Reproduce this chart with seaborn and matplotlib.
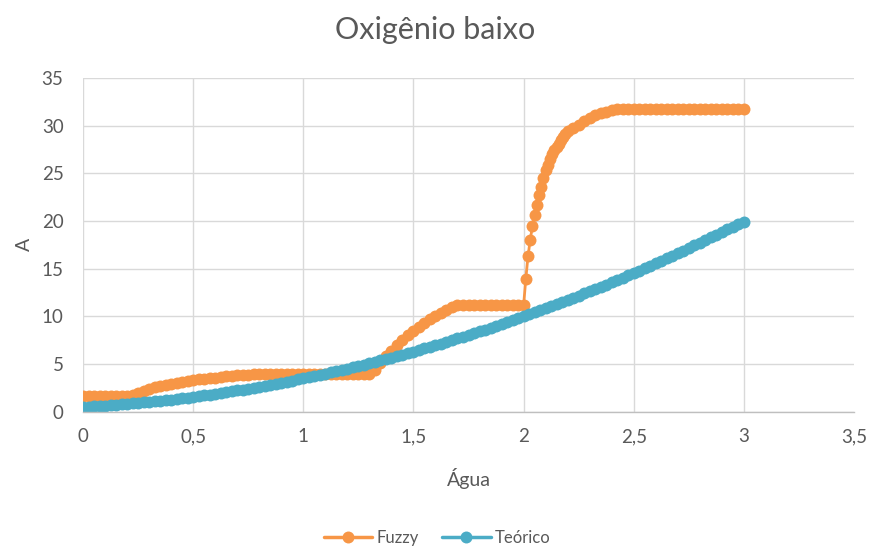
import numpy as np
import pandas as pd
import matplotlib
matplotlib.use("Agg")
import matplotlib.pyplot as plt
import seaborn as sns
from matplotlib.lines import Line2D

# ---------------- data ----------------
fuzzy_x = [0.000, 0.025, 0.050, 0.075, 0.100, 0.125, 0.150, 0.175, 0.200,
           0.225, 0.250, 0.275, 0.300, 0.325, 0.350, 0.375, 0.400, 0.425,
           0.450, 0.475, 0.500, 0.525, 0.550, 0.575, 0.600, 0.625, 0.650,
           0.675, 0.700, 0.725, 0.750, 0.775, 0.800,
           0.825, 0.850, 0.875, 0.900, 0.925, 0.950, 0.975, 1.000, 1.025,
           1.050, 1.075, 1.100, 1.125, 1.150, 1.175, 1.200, 1.225, 1.250,
           1.275, 1.300,
           1.325, 1.350, 1.375, 1.400, 1.425, 1.450, 1.475, 1.500, 1.525,
           1.550, 1.575, 1.600, 1.625, 1.650, 1.675, 1.700,
           1.725, 1.750, 1.775, 1.800, 1.825, 1.850, 1.875, 1.900, 1.925,
           1.950, 1.975, 2.000,
           2.01, 2.02, 2.03, 2.04, 2.05, 2.06, 2.07, 2.08, 2.09, 2.10,
           2.11, 2.12, 2.13, 2.14, 2.15, 2.16, 2.17, 2.18, 2.19, 2.20,
           2.225, 2.250, 2.275, 2.300, 2.325, 2.350, 2.375, 2.400, 2.425,
           2.450, 2.475, 2.500,
           2.525, 2.550, 2.575, 2.600, 2.625, 2.650, 2.675, 2.700, 2.725,
           2.750, 2.775, 2.800, 2.825, 2.850, 2.875, 2.900, 2.925, 2.950,
           2.975, 3.000]
fuzzy_y = [1.6, 1.6, 1.6, 1.6, 1.6, 1.6, 1.6, 1.6, 1.6,
           1.8, 2.0, 2.2, 2.4, 2.55, 2.7, 2.8, 2.9, 3.0,
           3.1, 3.2, 3.3, 3.38, 3.45, 3.52, 3.58, 3.64, 3.7,
           3.75, 3.8, 3.85, 3.9, 3.93, 3.95,
           3.95, 3.95, 3.95, 3.95, 3.95, 3.95, 3.95, 3.95, 3.95,
           3.95, 3.95, 3.95, 3.95, 3.95, 3.95, 3.95, 3.95, 3.95,
           3.95, 3.95,
           4.4, 5.1, 5.8, 6.4, 7.0, 7.5, 8.0, 8.5, 8.9,
           9.3, 9.7, 10.05, 10.4, 10.7, 10.95, 11.15,
           11.15, 11.15, 11.15, 11.15, 11.15, 11.15, 11.15, 11.15, 11.15,
           11.15, 11.15, 11.15,
           13.9, 16.3, 18.0, 19.45, 20.6, 21.7, 22.7, 23.6, 24.5, 25.3,
           25.9, 26.5, 27.0, 27.4, 27.8, 28.1, 28.5, 28.8, 29.1, 29.4,
           29.8, 30.1, 30.5, 30.8, 31.1, 31.3, 31.45, 31.6, 31.7,
           31.75, 31.8, 31.8,
           31.8, 31.8, 31.8, 31.8, 31.8, 31.8, 31.8, 31.8, 31.8,
           31.8, 31.8, 31.8, 31.8, 31.8, 31.8, 31.8, 31.8, 31.8,
           31.8, 31.8]

teorico_x = np.round(np.arange(0, 3.0001, 0.025), 3)
teorico_y = [0.50, 0.53, 0.57, 0.60, 0.64, 0.68, 0.73, 0.77, 0.82, 0.87,
             0.92, 0.98, 1.03, 1.09, 1.15, 1.21, 1.28, 1.35, 1.42, 1.49,
             1.56, 1.64, 1.72, 1.80, 1.88, 1.96, 2.05, 2.14, 2.23, 2.33,
             2.42, 2.52, 2.62, 2.72, 2.83, 2.93, 3.04, 3.15, 3.27, 3.38,
             3.50, 3.62, 3.74, 3.87, 3.99, 4.12, 4.25, 4.38, 4.52, 4.66,
             4.80, 4.94, 5.08, 5.23, 5.38, 5.53, 5.68, 5.83, 5.99, 6.15,
             6.31, 6.48, 6.64, 6.81, 6.98, 7.15, 7.33, 7.50, 7.68, 7.86,
             8.05, 8.23, 8.42, 8.61, 8.80, 9.00, 9.19, 9.39, 9.59, 9.79,
             10.00, 10.21, 10.42, 10.63, 10.84, 11.06, 11.28, 11.50, 11.72, 11.94,
             12.17, 12.40, 12.63, 12.87, 13.10, 13.34, 13.58, 13.82, 14.07, 14.31,
             14.56, 14.81, 15.07, 15.32, 15.58, 15.84, 16.10, 16.37, 16.63, 16.90,
             17.17, 17.44, 17.72, 18.00, 18.28, 18.56, 18.84, 19.13, 19.42, 19.71,
             19.95]

x_ticks = [0, 0.5, 1, 1.5, 2, 2.5, 3, 3.5]
x_tick_labels = ["0", "0,5", "1", "1,5", "2", "2,5", "3", "3,5"]
y_ticks = [0, 5, 10, 15, 20, 25, 30, 35]
series_names = ["Fuzzy", "Teórico"]

# ---------------- style ----------------
ORANGE = "#F79646"
BLUE = "#4BACC6"
TXT = "#595959"
GRID = "#D9D9D9"
MS = 8.6

sns.set_theme(style="white")
plt.rcParams['font.family'] = ['Lato', 'DejaVu Sans']

fig = plt.figure(figsize=(8.71, 5.47), dpi=100)
ax = fig.add_axes([0.0953, 0.2473, 0.8852, 0.6101])

common = dict(marker='o', markersize=MS, markeredgewidth=0, linewidth=2.0,
              sort=False, estimator=None, ax=ax, legend=False)
sns.lineplot(x=fuzzy_x, y=fuzzy_y, color=ORANGE, **common)
sns.lineplot(x=teorico_x, y=teorico_y, color=BLUE, **common)

ax.set_xlim(0, 3.5)
ax.set_ylim(0, 35)
ax.set_xticks(x_ticks)
ax.set_xticklabels(x_tick_labels)
ax.set_yticks(y_ticks)
ax.grid(True, color=GRID, linewidth=1.0)
ax.set_axisbelow(True)
for s in ["top", "right", "left"]:
    ax.spines[s].set_visible(False)
ax.spines["bottom"].set_color("#BFBFBF")
ax.spines["bottom"].set_linewidth(1.0)
ax.xaxis.get_gridlines()[-1].set_visible(False)

ax.tick_params(axis='both', length=0, labelsize=13.5, labelcolor=TXT)
ax.tick_params(axis='y', pad=14)
ax.tick_params(axis='x', pad=12)

ax.set_xlabel("Água", fontsize=14, color=TXT, labelpad=16)
ax.set_ylabel("A", fontsize=14, color=TXT, labelpad=6)

fig.text(0.5, 0.945, "Oxigênio baixo", ha='center', va='center',
         fontsize=22, color=TXT)

handles = [Line2D([0], [0], color=ORANGE, marker='o', markersize=MS,
                  markeredgewidth=0, linewidth=2.5),
           Line2D([0], [0], color=BLUE, marker='o', markersize=MS,
                  markeredgewidth=0, linewidth=2.5)]
leg = fig.legend(handles, series_names, loc='center', bbox_to_anchor=(0.502, 0.017),
                 ncol=2, frameon=False, fontsize=12, handlelength=2.9,
                 columnspacing=1.4, handletextpad=0.25)
for t in leg.get_texts():
    t.set_color(TXT)

fig.savefig("out.png", dpi=100)
